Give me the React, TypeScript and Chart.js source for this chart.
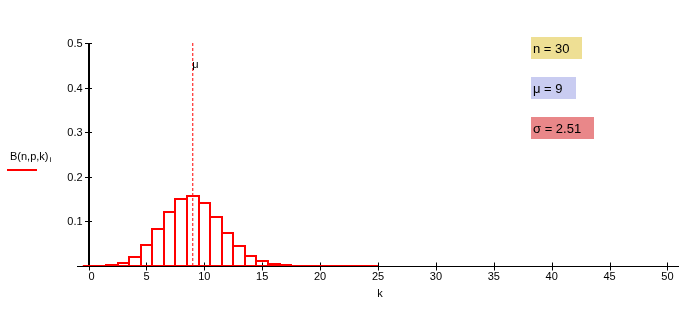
import React, { useEffect, useRef } from "react";
import { Chart, registerables } from "chart.js";

Chart.register(...registerables);

// ---- data ----
const kValues = [0, 1, 2, 3, 4, 5, 6, 7, 8, 9, 10, 11, 12, 13, 14, 15, 16, 17, 18, 19, 20, 21, 22, 23, 24, 25];
const probValues = [
  0.00002, 0.0003, 0.0018, 0.0072, 0.0208, 0.0464, 0.0829, 0.1219, 0.1501, 0.1573,
  0.1416, 0.1103, 0.0749, 0.0444, 0.0231, 0.0106, 0.0042, 0.0015, 0.0005, 0.0001,
  0.00003, 0.00001, 0, 0, 0, 0,
];
const muValue = 9;
const xTicks = [0, 5, 10, 15, 20, 25, 30, 35, 40, 45, 50];
const yTicks = [0.1, 0.2, 0.3, 0.4, 0.5];
const xTitle = "k";
const legendText = "B(n,p,k)";
const legendSub = "i";
const muLabel = "μ";
const statLabels = ["n = 30", "μ = 9", "σ = 2.51"];
const statColors = ["#eedf94", "#c9ccf1", "#e98789"];

const RED = "#ff0000";
const FONT = "Arial, 'Liberation Sans', sans-serif";

const overlayPlugin = {
  id: "overlay",
  beforeDatasetsDraw(chart: any) {
    const { ctx, scales } = chart;
    const xs = scales.x;
    const ys = scales.y;
    const x0 = Math.round(xs.getPixelForValue(0));
    const yBase = Math.round(ys.getPixelForValue(0)) + 0.5;
    ctx.save();
    ctx.strokeStyle = "#000";
    // x axis
    ctx.lineWidth = 1;
    ctx.beginPath();
    ctx.moveTo(chart.chartArea.left, yBase);
    ctx.lineTo(chart.chartArea.right, yBase);
    ctx.stroke();
    // y axis
    ctx.lineWidth = 2;
    ctx.beginPath();
    ctx.moveTo(x0, Math.round(ys.getPixelForValue(0.5)));
    ctx.lineTo(x0, yBase + 0.5);
    ctx.stroke();
    ctx.lineWidth = 1;
    // x ticks
    for (const t of xTicks) {
      const px = Math.round(xs.getPixelForValue(t)) + 0.5;
      ctx.beginPath();
      ctx.moveTo(px, yBase - 4);
      ctx.lineTo(px, yBase + 4);
      ctx.stroke();
    }
    // y ticks
    for (const t of yTicks) {
      const py = Math.round(ys.getPixelForValue(t)) + 0.5;
      ctx.beginPath();
      ctx.moveTo(x0 - 4, py);
      ctx.lineTo(x0 + 3, py);
      ctx.stroke();
    }
    ctx.restore();
  },
  afterDatasetDraw(chart: any, args: any) {
    if (args.index !== 0) return;
    const { ctx } = chart;
    const meta = chart.getDatasetMeta(0);
    ctx.save();
    ctx.strokeStyle = RED;
    ctx.lineWidth = 2;
    ctx.lineCap = "butt";
    for (const bar of meta.data) {
      const { x, y, base, width } = bar.getProps(["x", "y", "base", "width"], true);
      const b = Math.round(base);
      const t = Math.round(y);
      if (b - t < 1) continue;
      const l = Math.round(x - width / 2);
      const r = Math.round(x + width / 2);
      ctx.beginPath();
      ctx.moveTo(l, b);
      ctx.lineTo(l, t);
      ctx.lineTo(r, t);
      ctx.lineTo(r, b);
      ctx.stroke();
    }
    ctx.restore();
  },
  afterDraw(chart: any) {
    const { ctx, scales } = chart;
    const xs = scales.x;
    const ys = scales.y;
    const x0 = xs.getPixelForValue(0);
    const yBase = ys.getPixelForValue(0);
    ctx.save();
    ctx.fillStyle = "#000";
    ctx.font = `11px ${FONT}`;
    // x tick labels
    ctx.textAlign = "center";
    ctx.textBaseline = "middle";
    for (const t of xTicks) {
      const px = xs.getPixelForValue(t) + (t === 0 ? 3 : 0);
      ctx.fillText(String(t), px, yBase + 11);
    }
    // y tick labels
    ctx.textAlign = "right";
    for (const t of yTicks) {
      ctx.fillText(t.toFixed(1), x0 - 6, ys.getPixelForValue(t) + 1);
    }
    // x title
    ctx.textAlign = "center";
    ctx.fillText(xTitle, (chart.chartArea.left + chart.chartArea.right) / 2 + 2, yBase + 28);
    // mu label
    ctx.textAlign = "left";
    ctx.fillText(muLabel, xs.getPixelForValue(muValue) - 0.5, ys.getPixelForValue(0.45));
    // legend
    ctx.fillText(legendText, 10, 157);
    const w = ctx.measureText(legendText).width;
    ctx.font = `8px ${FONT}`;
    ctx.fillText(legendSub, 10 + w + 1, 160);
    ctx.strokeStyle = RED;
    ctx.lineWidth = 2;
    ctx.beginPath();
    ctx.moveTo(7, 170);
    ctx.lineTo(37, 170);
    ctx.stroke();
    // stat boxes
    const boxes = [
      { x: 531, y: 37, w: 51, h: 22 },
      { x: 531, y: 77, w: 45, h: 22 },
      { x: 531, y: 117, w: 63, h: 22 },
    ];
    ctx.font = `13px ${FONT}`;
    statLabels.forEach((s, i) => {
      const b = boxes[i];
      ctx.fillStyle = statColors[i];
      ctx.fillRect(b.x, b.y, b.w, b.h);
      ctx.fillStyle = "#000";
      ctx.textAlign = "left";
      ctx.textBaseline = "middle";
      ctx.fillText(s, b.x + 2, b.y + b.h / 2 + 1);
    });
    ctx.restore();
  },
};

export default function App() {
  const ref = useRef<HTMLCanvasElement | null>(null);
  useEffect(() => {
    if (!ref.current) return;
    const barData = kValues.map((k, i) => ({ x: k, y: probValues[i] }));
    const baseData = [
      { x: kValues[0] - 0.5, y: 0 },
      { x: kValues[kValues.length - 1], y: 0 },
    ];
    const muData = [
      { x: muValue, y: 0 },
      { x: muValue, y: yTicks[yTicks.length - 1] },
    ];
    const chart = new Chart(ref.current, {
      type: "bar",
      data: {
        datasets: [
          {
            type: "bar",
            data: barData,
            backgroundColor: "rgba(0,0,0,0)",
            borderColor: RED,
            borderWidth: 0,
            barPercentage: 1,
            categoryPercentage: 1,
            order: 2,
          } as any,
          {
            type: "line",
            data: baseData,
            borderColor: RED,
            borderWidth: 2,
            pointRadius: 0,
            order: 1,
          } as any,
          {
            type: "line",
            data: muData,
            borderColor: RED,
            borderWidth: 1,
            borderDash: [3, 2],
            pointRadius: 0,
            order: 0,
          } as any,
        ],
      },
      options: {
        responsive: false,
        devicePixelRatio: 1,
        animation: false,
        events: [],
        layout: { padding: { left: 77, right: 12, top: 43, bottom: 45 } },
        plugins: { legend: { display: false }, tooltip: { enabled: false } },
        scales: {
          x: { type: "linear", min: -1, max: 51, offset: false, display: false },
          y: { type: "linear", min: 0, max: 0.5, display: false },
        },
      },
      plugins: [overlayPlugin],
    });
    return () => chart.destroy();
  }, []);
  return (
    <div style={{ position: "absolute", left: 0, top: 0, width: 691, height: 311, background: "#fff" }}>
      <canvas ref={ref} width={691} height={311} style={{ width: 691, height: 311, display: "block" }} />
    </div>
  );
}
